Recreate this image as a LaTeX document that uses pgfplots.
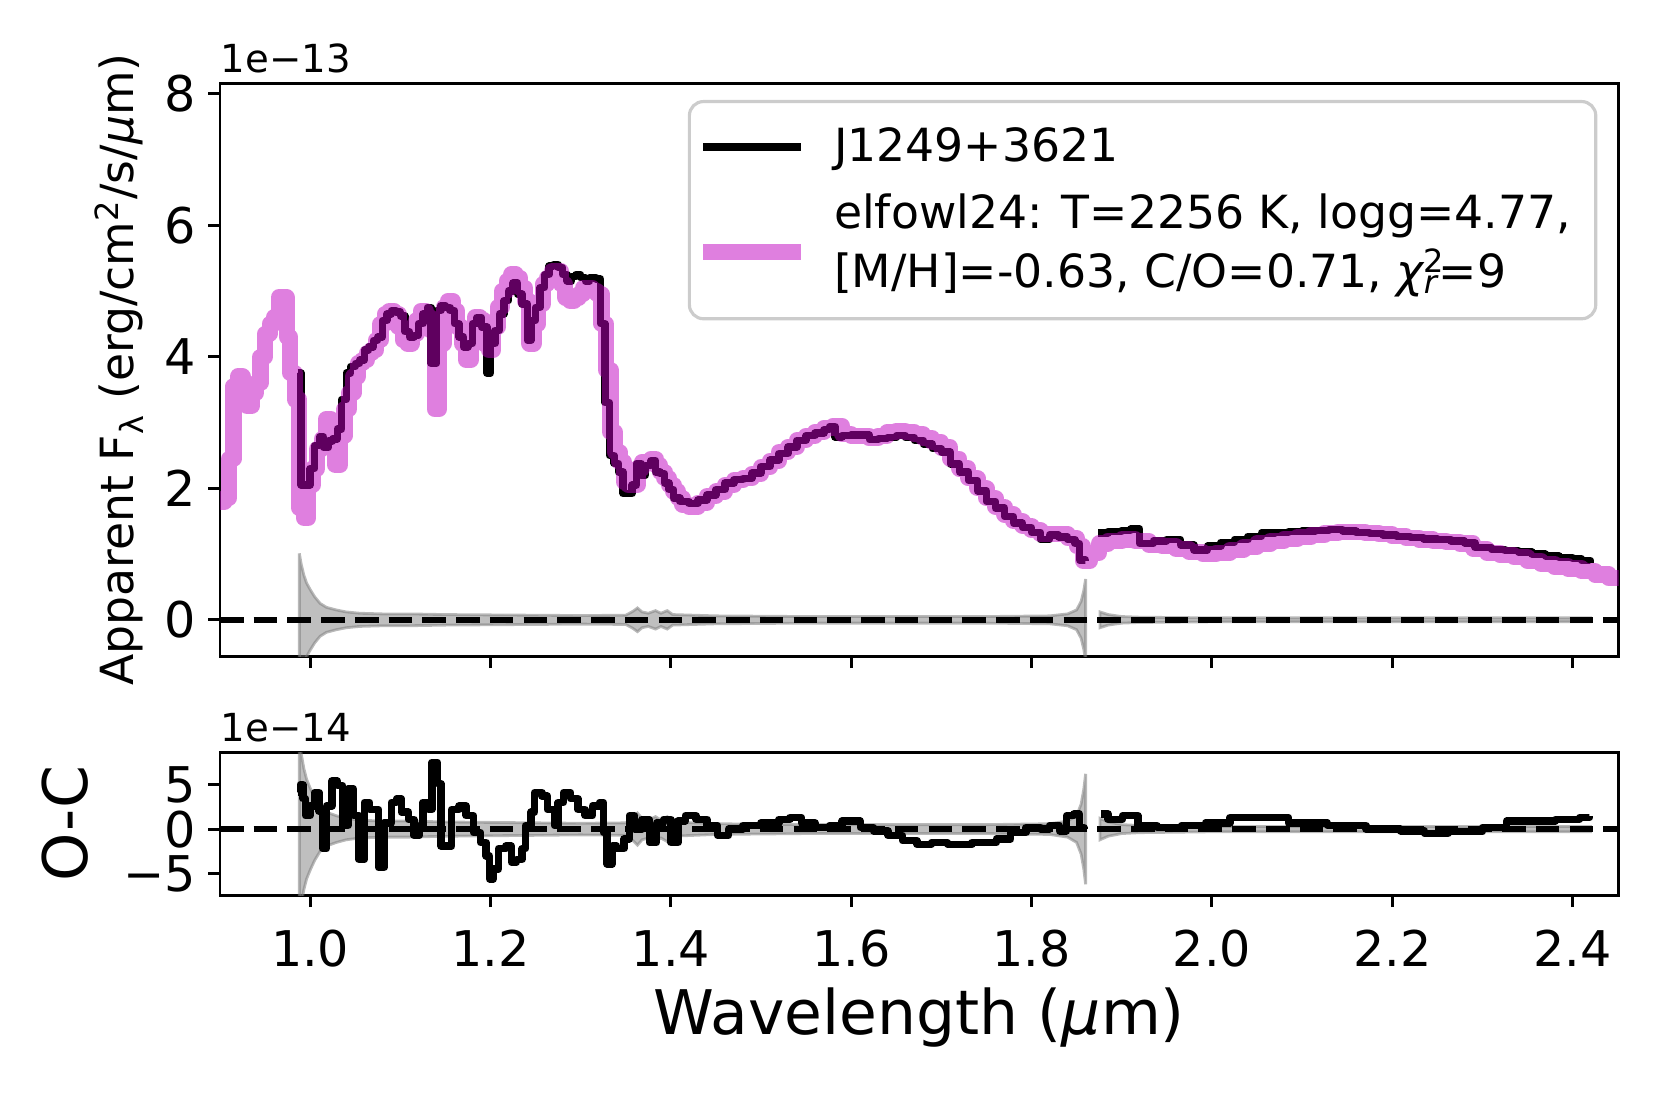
\documentclass[border=0pt]{standalone}
\usepackage{fontspec}
\setmainfont{DejaVu Sans}
\usepackage{pgfplots}
\usepackage{pgfplotstable}
\pgfplotsset{compat=1.18}

\definecolor{modelm}{RGB}{191,0,191}
\definecolor{bandgray}{RGB}{128,128,128}

% model spectrum (1e-13)
\pgfplotstableread{
x y
0.900 1.80
0.905 1.85
0.910 2.45
0.915 3.55
0.920 3.70
0.925 3.60
0.930 3.25
0.935 3.45
0.940 3.60
0.945 4.00
0.950 4.35
0.955 4.50
0.960 4.60
0.965 4.90
0.970 4.90
0.974 4.30
0.978 3.75
0.983 3.35
0.988 1.70
0.993 1.55
0.998 2.05
1.003 2.30
1.008 2.60
1.013 2.75
1.018 3.05
1.023 2.85
1.028 2.35
1.033 2.80
1.038 3.20
1.043 3.45
1.048 3.70
1.053 3.90
1.058 3.95
1.063 4.05
1.068 4.10
1.073 4.25
1.078 4.50
1.083 4.65
1.088 4.70
1.093 4.65
1.098 4.45
1.103 4.25
1.108 4.20
1.113 4.35
1.118 4.55
1.123 4.70
1.128 4.60
1.133 4.40
1.138 3.20
1.143 4.20
1.148 4.75
1.153 4.85
1.158 4.70
1.163 4.45
1.168 4.20
1.173 3.95
1.178 4.25
1.183 4.60
1.188 4.55
1.193 4.20
1.198 4.10
1.203 4.45
1.208 4.75
1.213 5.00
1.218 5.15
1.223 5.25
1.228 5.20
1.233 5.05
1.238 4.85
1.243 4.20
1.248 4.50
1.253 4.80
1.258 5.10
1.263 5.20
1.268 5.30
1.273 5.30
1.278 5.10
1.283 4.90
1.288 4.85
1.293 4.90
1.298 4.95
1.303 5.05
1.308 5.05
1.313 5.00
1.318 4.95
1.323 4.50
1.328 3.80
1.333 2.85
1.338 2.55
1.343 2.40
1.348 2.10
1.353 2.05
1.358 2.05
1.363 2.30
1.368 2.40
1.373 2.40
1.378 2.45
1.383 2.35
1.388 2.25
1.393 2.15
1.398 2.05
1.403 1.95
1.408 1.85
1.413 1.75
1.420 1.72
1.430 1.78
1.440 1.88
1.450 1.95
1.460 2.05
1.470 2.12
1.480 2.15
1.490 2.22
1.500 2.32
1.510 2.42
1.520 2.55
1.530 2.63
1.540 2.73
1.550 2.80
1.560 2.86
1.570 2.92
1.580 2.95
1.590 2.82
1.600 2.80
1.610 2.80
1.620 2.76
1.630 2.80
1.640 2.85
1.650 2.87
1.660 2.86
1.670 2.82
1.680 2.76
1.690 2.70
1.700 2.62
1.710 2.45
1.720 2.30
1.730 2.15
1.740 2.00
1.750 1.85
1.760 1.72
1.770 1.60
1.780 1.50
1.790 1.43
1.800 1.36
1.810 1.30
1.820 1.30
1.830 1.30
1.840 1.24
1.850 1.12
1.857 0.90
1.865 1.02
1.875 1.16
1.885 1.20
1.900 1.22
1.915 1.20
1.930 1.14
1.945 1.12
1.960 1.08
1.975 1.03
1.990 1.00
2.005 1.02
2.020 1.06
2.035 1.11
2.050 1.16
2.065 1.20
2.080 1.23
2.095 1.26
2.110 1.29
2.125 1.32
2.140 1.34
2.155 1.34
2.170 1.32
2.185 1.30
2.200 1.27
2.215 1.25
2.230 1.22
2.245 1.20
2.260 1.18
2.275 1.16
2.290 1.08
2.305 1.02
2.320 0.98
2.335 0.95
2.350 0.90
2.365 0.85
2.380 0.81
2.395 0.78
2.410 0.74
2.425 0.69
2.440 0.63
2.455 0.60
}\model

% observed spectrum, two segments (1e-13)
\pgfplotstableread{
x y
0.986 3.75
0.990 2.05
0.995 2.05
1.000 2.30
1.005 2.65
1.010 2.78
1.015 2.62
1.020 2.72
1.025 2.75
1.030 2.90
1.035 3.35
1.040 3.75
1.045 3.85
1.050 3.90
1.055 3.95
1.060 4.10
1.065 4.15
1.070 4.25
1.075 4.30
1.080 4.55
1.085 4.65
1.090 4.70
1.095 4.68
1.100 4.62
1.105 4.38
1.110 4.30
1.115 4.32
1.120 4.50
1.125 4.65
1.130 4.75
1.134 3.90
1.140 4.70
1.145 4.78
1.150 4.75
1.155 4.70
1.160 4.50
1.165 4.30
1.170 4.15
1.175 4.20
1.180 4.50
1.185 4.60
1.190 4.45
1.196 3.75
1.200 4.20
1.205 4.40
1.210 4.65
1.215 4.85
1.220 5.00
1.225 5.12
1.230 4.95
1.235 4.80
1.241 4.25
1.245 4.55
1.250 4.75
1.255 5.05
1.260 5.25
1.265 5.38
1.270 5.40
1.275 5.36
1.280 5.25
1.285 5.15
1.290 5.22
1.295 5.25
1.300 5.20
1.305 5.15
1.310 5.20
1.317 5.18
1.322 4.50
1.327 3.30
1.332 2.50
1.337 2.38
1.342 2.25
1.347 1.92
1.352 1.92
1.357 2.05
1.362 2.38
1.367 2.20
1.372 2.35
1.378 2.42
1.383 2.25
1.388 2.22
1.393 2.08
1.398 1.98
1.403 1.85
1.410 1.80
1.420 1.77
1.430 1.82
1.440 1.90
1.450 1.98
1.460 2.08
1.470 2.13
1.480 2.15
1.490 2.23
1.500 2.33
1.510 2.43
1.520 2.53
1.530 2.63
1.540 2.73
1.550 2.80
1.560 2.84
1.570 2.89
1.576 2.94
1.582 2.78
1.590 2.80
1.600 2.81
1.610 2.81
1.620 2.74
1.630 2.76
1.640 2.77
1.650 2.80
1.660 2.77
1.670 2.73
1.680 2.67
1.690 2.60
1.700 2.55
1.710 2.37
1.720 2.25
1.730 2.12
1.740 1.96
1.750 1.80
1.760 1.70
1.770 1.57
1.780 1.47
1.790 1.40
1.800 1.33
1.810 1.22
1.820 1.29
1.830 1.26
1.840 1.22
1.848 1.16
1.853 0.91
1.860 0.90
}\obsA
\pgfplotstableread{
x y
1.874 1.32
1.885 1.34
1.900 1.36
1.910 1.38
1.920 1.16
1.935 1.20
1.950 1.22
1.965 1.14
1.980 1.06
1.995 1.12
2.010 1.18
2.025 1.22
2.040 1.27
2.055 1.32
2.070 1.33
2.085 1.34
2.100 1.35
2.115 1.36
2.130 1.37
2.145 1.35
2.160 1.33
2.175 1.31
2.190 1.29
2.205 1.27
2.220 1.25
2.235 1.23
2.250 1.22
2.265 1.20
2.280 1.17
2.292 1.10
2.310 1.07
2.325 1.05
2.340 1.03
2.355 1.00
2.370 0.97
2.385 0.95
2.400 0.93
2.410 0.90
2.420 0.86
}\obsB

% flux uncertainty band (1e-13): upper edge, then lower edge back
\pgfplotstableread{
x y
0.988 1.01
0.990 0.85
0.993 0.68
0.996 0.56
1.000 0.46
1.005 0.35
1.011 0.25
1.018 0.19
1.029 0.15
1.040 0.12
1.055 0.10
1.080 0.09
1.110 0.09
1.150 0.08
1.200 0.075
1.250 0.07
1.300 0.065
1.350 0.07
1.358 0.13
1.363 0.18
1.368 0.12
1.375 0.10
1.383 0.14
1.389 0.10
1.396 0.14
1.402 0.08
1.450 0.06
1.550 0.05
1.650 0.05
1.750 0.05
1.820 0.06
1.840 0.09
1.850 0.15
1.855 0.28
1.858 0.45
1.860 0.62
1.860 -0.62
1.858 -0.45
1.855 -0.28
1.850 -0.15
1.840 -0.09
1.820 -0.06
1.750 -0.05
1.650 -0.05
1.550 -0.05
1.450 -0.06
1.402 -0.08
1.396 -0.14
1.389 -0.10
1.383 -0.14
1.375 -0.10
1.368 -0.12
1.363 -0.18
1.358 -0.13
1.350 -0.07
1.300 -0.065
1.250 -0.07
1.200 -0.075
1.150 -0.08
1.110 -0.09
1.080 -0.09
1.055 -0.10
1.040 -0.12
1.029 -0.15
1.018 -0.19
1.011 -0.25
1.005 -0.35
1.000 -0.46
0.996 -0.56
0.993 -0.68
0.990 -0.85
0.988 -1.01
}\bandA
\pgfplotstableread{
x y
1.876 0.12
1.885 0.08
1.900 0.05
1.920 0.04
2.000 0.03
2.200 0.03
2.420 0.03
2.420 -0.03
2.200 -0.03
2.000 -0.03
1.920 -0.04
1.900 -0.05
1.885 -0.08
1.876 -0.12
}\bandB

% residuals O-C (1e-14)
\pgfplotstableread{
x y
0.986 4.1
0.989 5.0
0.992 3.4
0.995 1.5
1.000 2.6
1.005 4.1
1.010 2.0
1.014 -2.2
1.018 2.6
1.024 5.4
1.030 4.9
1.036 0.4
1.042 4.5
1.048 1.5
1.054 -3.4
1.060 3.0
1.066 2.2
1.072 2.2
1.076 -4.3
1.082 0.7
1.090 3.0
1.096 3.4
1.101 1.9
1.109 1.1
1.115 -0.7
1.121 0.4
1.125 3.0
1.131 2.2
1.135 7.5
1.141 5.1
1.145 -1.9
1.151 -1.9
1.157 2.2
1.165 2.6
1.173 1.5
1.181 -0.4
1.189 -1.5
1.195 -3.0
1.199 -5.6
1.203 -4.5
1.209 -2.2
1.217 -1.9
1.223 -3.7
1.229 -3.4
1.235 -2.2
1.239 0.4
1.245 1.9
1.249 4.1
1.257 3.7
1.263 2.2
1.271 0.4
1.275 3.0
1.281 4.1
1.289 3.4
1.297 2.2
1.305 1.5
1.313 2.6
1.321 3.0
1.325 -0.4
1.329 -3.9
1.335 -1.9
1.340 -2.2
1.348 -1.1
1.354 1.5
1.360 0.0
1.368 1.1
1.376 -1.5
1.384 0.7
1.392 1.1
1.400 -1.5
1.408 0.9
1.416 1.5
1.428 1.1
1.440 0.4
1.452 -0.7
1.464 0.0
1.480 0.4
1.500 0.7
1.520 1.1
1.532 1.3
1.545 0.7
1.560 0.2
1.576 0.4
1.590 0.9
1.610 0.2
1.625 -0.2
1.641 -0.7
1.657 -1.3
1.673 -1.7
1.689 -1.5
1.707 -1.7
1.734 -1.5
1.761 -1.1
1.777 -0.4
1.794 0.2
1.810 0.0
1.820 0.4
1.831 -0.2
1.839 1.5
1.847 1.7
1.853 0.2
1.858 0.0
}\resA
\pgfplotstableread{
x y
1.877 1.7
1.885 1.1
1.901 1.5
1.918 0.4
1.939 0.2
1.966 0.4
1.993 0.7
2.020 1.3
2.052 1.3
2.085 0.7
2.128 0.4
2.171 0.0
2.209 -0.2
2.236 -0.5
2.262 -0.3
2.300 0.2
2.327 0.9
2.354 0.9
2.381 1.1
2.408 1.3
2.419 1.5
}\resB

\pgfplotsset{
  panel/.style={
    scale only axis, width=13.985cm,
    xmin=0.9, xmax=2.451,
    axis line style={line width=0.85pt},
    tick align=outside, tickpos=left,
    major tick length=1.2mm,
    every tick/.style={black, line width=0.85pt},
    xtick={1.0,1.2,1.4,1.6,1.8,2.0,2.2,2.4},
    tick label style={font=\fontsize{14}{16.8}\selectfont},
    xticklabel style={yshift=-1.1mm},
  },
  obsline/.style={black, line width=2.1pt, const plot, line join=round},
  modline/.style={modelm, draw opacity=0.5, line width=4.6pt, const plot, line join=round},
  modlegend/.style={legend image code/.code={\path (0cm,2.35mm); \draw[##1] (0cm,-0.9mm) -- (0.98cm,-0.9mm);}},
  zeroline/.style={black, line width=1.8pt, dash pattern=on 6.7pt off 2.9pt},
  band/.style={fill=bandgray, fill opacity=0.5, draw=bandgray, draw opacity=0.55, line width=0.8pt},
}

\begin{document}
\begin{tikzpicture}

\begin{axis}[panel, name=top,
  at={(2.20cm,4.51cm)}, anchor=south west, height=5.73cm,
  ymin=-0.55, ymax=8.16,
  ytick={0,2,4,6,8}, yticklabels={0,2,4,6,8},
  xticklabels={},
  ylabel={Apparent F\textsubscript{λ} (erg/cm\textsuperscript{2}/s/{\itshape µ}m)},
  ylabel style={at={(axis description cs:-0.0722,0.5)}, anchor=center,
    font=\fontsize{13}{15.6}\selectfont},
  legend cell align=left,
  legend style={at={(rel axis cs:0.3345,0.9704)}, anchor=north west,
    draw=black!20, line width=0.9pt, rounded corners=4pt,
    fill=white, fill opacity=0.8, text opacity=1,
    font=\fontsize{13}{16.8}\selectfont,
    inner xsep=0.56mm, inner ysep=2.6mm,
    row sep=2.7mm, column sep=2.5mm,
    nodes={inner sep=0pt, anchor=west},
    cells={align=left}},
  legend image code/.code={\draw[#1] (0cm,0cm) -- (0.98cm,0cm);},
]
\addplot[band, forget plot] table {\bandA} -- cycle;
\addplot[band, forget plot] table {\bandB} -- cycle;
\addplot[zeroline, forget plot] coordinates {(0.9,0) (2.451,0)};
\addplot[obsline] table {\obsA};
\addlegendentry{J1249+3621}
\addplot[obsline, forget plot] table {\obsB};
\addplot[modline, modlegend] table {\model};
\addlegendentry{elfowl24: T=2256 K, logg=4.77,\rule{1.9mm}{0pt}\\{[M/H]}=-0.63, C/O=0.71, {\itshape χ}\rlap{\textsuperscript{2}}\textsubscript{\itshape r}=9\rule[-2.4mm]{0pt}{1mm}}
\end{axis}
\node[anchor=base west, font=\fontsize{11}{13}\selectfont, inner sep=0pt]
  at ([yshift=1.1mm]top.north west) {1e−13};

\begin{axis}[panel, name=bot,
  at={(2.20cm,2.12cm)}, anchor=south west, height=1.43cm,
  ymin=-7.4, ymax=8.65,
  ytick={-5,0,5}, yticklabels={−5,0,5},
  xticklabels={1.0,1.2,1.4,1.6,1.8,2.0,2.2,2.4},
  xlabel={Wavelength ({\itshape µ}m)},
  xlabel style={at={(axis description cs:0.5,-0.86)}, anchor=center,
    font=\fontsize{17.5}{21}\selectfont},
  ylabel={O-C},
  ylabel style={at={(axis description cs:-0.111,0.5)}, anchor=center,
    font=\fontsize{17.5}{21}\selectfont},
]
\addplot[band, forget plot] table[y expr=10*\thisrow{y}] {\bandA} -- cycle;
\addplot[band, forget plot] table[y expr=10*\thisrow{y}] {\bandB} -- cycle;
\addplot[zeroline] coordinates {(0.9,0) (2.451,0)};
\addplot[obsline] table {\resA};
\addplot[obsline] table {\resB};
\end{axis}
\node[anchor=base west, font=\fontsize{11}{13}\selectfont, inner sep=0pt]
  at ([yshift=1.1mm]bot.north west) {1e−14};

\pgfresetboundingbox
\path[use as bounding box] (0,0) rectangle (16.61,11.07);
\end{tikzpicture}
\end{document}
